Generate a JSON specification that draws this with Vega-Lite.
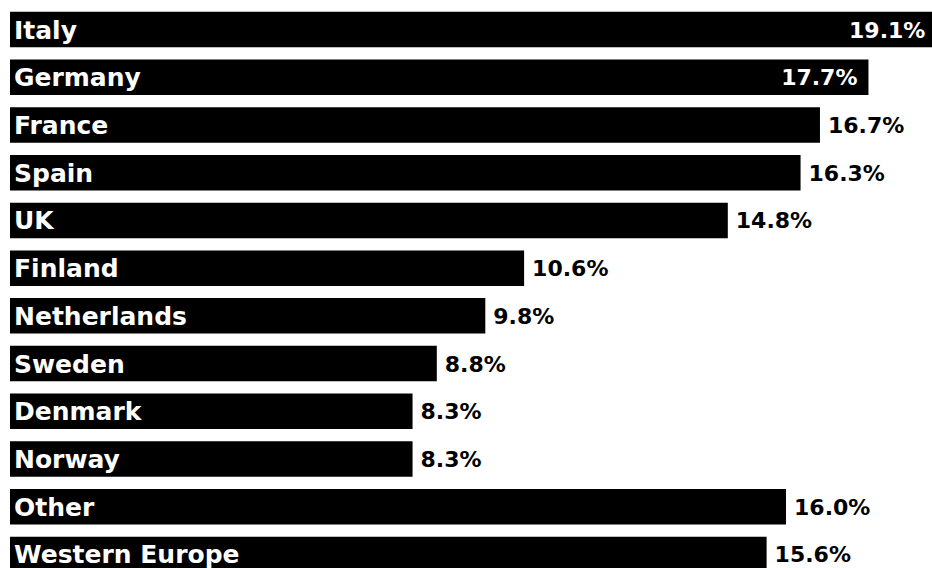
{
  "$schema": "https://vega.github.io/schema/vega-lite/v6.json",
  "autosize": {"type": "none"},
  "padding": {"top": 7, "left": 10, "right": 0, "bottom": 0},
  "width": 922,
  "height": 570,
  "background": "white",
  "config": {"view": {"stroke": null}},
  "data": {"values": [
    {"country": "Italy", "share": 0.191},
    {"country": "Germany", "share": 0.177},
    {"country": "France", "share": 0.167},
    {"country": "Spain", "share": 0.163},
    {"country": "UK", "share": 0.148},
    {"country": "Finland", "share": 0.106},
    {"country": "Netherlands", "share": 0.098},
    {"country": "Sweden", "share": 0.088},
    {"country": "Denmark", "share": 0.083},
    {"country": "Norway", "share": 0.083},
    {"country": "Other", "share": 0.160},
    {"country": "Western Europe", "share": 0.156}
  ]},
  "encoding": {
    "y": {"field": "country", "type": "nominal", "sort": null, "axis": null,
          "scale": {"paddingInner": 0.256, "paddingOuter": 0.1}}
  },
  "layer": [
    {
      "mark": {"type": "bar", "color": "black"},
      "encoding": {
        "x": {"field": "share", "type": "quantitative", "axis": null,
              "scale": {"domain": [0, 0.1901], "nice": false, "zero": true}}
      }
    },
    {
      "mark": {"type": "text", "align": "left", "baseline": "middle", "dx": 4, "dy": 1,
               "font": "DejaVu Sans", "fontWeight": "bold", "fontSize": 25, "color": "white"},
      "encoding": {
        "x": {"datum": 0, "type": "quantitative"},
        "text": {"field": "country"}
      }
    },
    {
      "transform": [{"filter": "datum.share > 0.17"}],
      "mark": {"type": "text", "align": "right", "baseline": "middle", "dx": -11, "dy": 1,
               "font": "DejaVu Sans", "fontWeight": "bold", "fontSize": 22, "color": "white"},
      "encoding": {
        "x": {"field": "share", "type": "quantitative"},
        "text": {"field": "share", "format": ".1%"}
      }
    },
    {
      "transform": [{"filter": "datum.share <= 0.17"}],
      "mark": {"type": "text", "align": "left", "baseline": "middle", "dx": 8, "dy": 1,
               "font": "DejaVu Sans", "fontWeight": "bold", "fontSize": 22, "color": "black"},
      "encoding": {
        "x": {"field": "share", "type": "quantitative"},
        "text": {"field": "share", "format": ".1%"}
      }
    }
  ]
}
